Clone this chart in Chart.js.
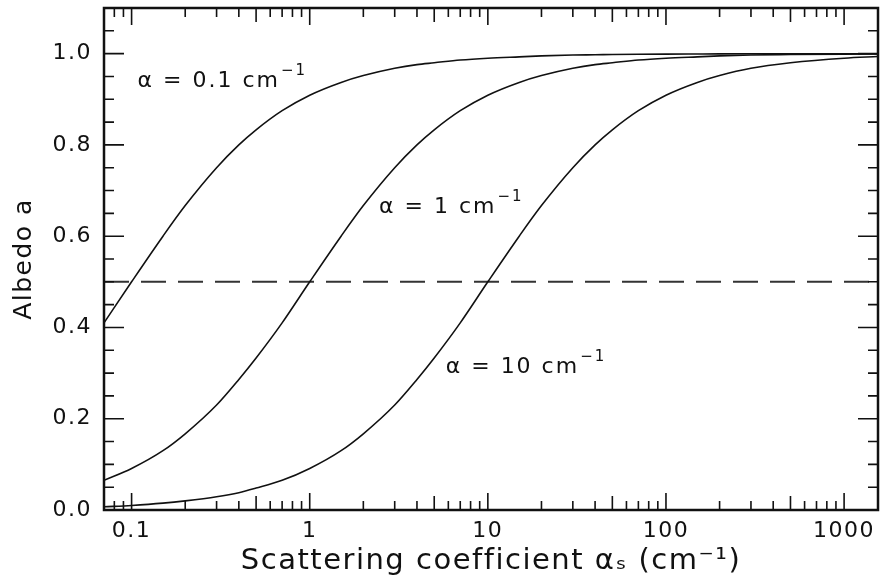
<!DOCTYPE html>
<html>
<head>
<meta charset="utf-8">
<script src="https://cdn.jsdelivr.net/npm/chart.js@4.4.0/dist/chart.umd.min.js"></script>
<style>
  html, body { margin: 0; padding: 0; background: #fff; }
  #wrap { width: 881px; height: 586px; }
</style>
</head>
<body>
<div id="wrap"><canvas id="chart" width="881" height="586"></canvas></div>
<script>
// ------------------------------------------------------------
//  Data
// ------------------------------------------------------------
const scatterCoef = [0.07, 0.1, 0.15, 0.2, 0.3, 0.4, 0.5, 0.7, 1, 1.5, 2, 3, 4, 5, 7, 10, 15, 20, 30, 40, 50, 70, 100, 150, 200, 300, 500, 1000, 1550];
const albedoA01 = [0.41, 0.50, 0.60, 0.667, 0.75, 0.80, 0.833, 0.875, 0.909, 0.937, 0.952, 0.968, 0.976, 0.980, 0.986, 0.990, 0.993, 0.995, 0.997, 0.9975, 0.998, 0.9986, 0.999, 0.9993, 0.9995, 0.9997, 0.9998, 0.9999, 0.9999];
const albedoA1  = [0.065, 0.091, 0.13, 0.167, 0.23, 0.286, 0.333, 0.41, 0.50, 0.60, 0.667, 0.75, 0.80, 0.833, 0.875, 0.909, 0.937, 0.952, 0.968, 0.976, 0.980, 0.986, 0.990, 0.993, 0.995, 0.997, 0.998, 0.999, 0.9994];
const albedoA10 = [0.007, 0.01, 0.015, 0.02, 0.029, 0.038, 0.048, 0.065, 0.091, 0.13, 0.167, 0.23, 0.286, 0.333, 0.41, 0.50, 0.60, 0.667, 0.75, 0.80, 0.833, 0.875, 0.909, 0.937, 0.952, 0.968, 0.980, 0.990, 0.9936];

const halfX = [0.07, 1550];
const halfY = [0.5, 0.5];

const xTickLabels = [0.1, 1, 10, 100, 1000];
const yTickLabels = [0, 0.2, 0.4, 0.6, 0.8, 1.0];

const curveNames = ["α = 0.1 cm", "α = 1 cm", "α = 10 cm"];
const curveNameX = [0.108, 2.45, 5.8];
const curveNameY = [0.94, 0.663, 0.313];

const FONT = "'DejaVu Sans', sans-serif";
const INK = "#111";

const toPoints = (xs, ys) => xs.map((x, i) => ({ x, y: ys[i] }));

// ------------------------------------------------------------
//  Inward ticks on all four sides + frame + curve labels
// ------------------------------------------------------------
const framePlugin = {
    id: "frame",
    beforeDraw(chart) {
        chart.ctx.letterSpacing = "1.5px";
    },
    afterDatasetsDraw(chart) {
        const ctx = chart.ctx;
        const { x, y } = chart.scales;
        ctx.save();
        ctx.fillStyle = INK;
        ctx.textBaseline = "middle";
        ctx.letterSpacing = "2px";
        curveNames.forEach((t, i) => {
            const px = x.getPixelForValue(curveNameX[i]);
            const py = y.getPixelForValue(curveNameY[i]);
            ctx.font = "22px " + FONT;
            ctx.fillText(t, px, py);
            const w = ctx.measureText(t).width;
            ctx.font = "15px " + FONT;
            ctx.fillText("−1", px + w + 1, py - 10);
        });
        ctx.restore();
    },
    afterDraw(chart) {
        const ctx = chart.ctx;
        const { left, right, top, bottom } = chart.chartArea;
        const { x, y } = chart.scales;
        ctx.save();
        ctx.strokeStyle = INK;
        ctx.lineWidth = 1.6;
        ctx.beginPath();
        // x ticks
        for (let k = -2; k <= 3; k++) {
            for (let m = 1; m <= 9; m++) {
                const v = m * Math.pow(10, k);
                if (v < x.min || v > x.max) continue;
                const px = x.getPixelForValue(v);
                const len = m === 1 ? 17 : (m === 5 ? 14 : 9);
                ctx.moveTo(px, bottom); ctx.lineTo(px, bottom - len);
                ctx.moveTo(px, top); ctx.lineTo(px, top + len);
            }
        }
        // y ticks
        for (let i = 0; i <= 22; i++) {
            const v = i * 0.05;
            if (v > y.max + 1e-9) continue;
            const py = y.getPixelForValue(v);
            const len = i % 4 === 0 ? 20 : 10;
            ctx.moveTo(left, py); ctx.lineTo(left + len, py);
            ctx.moveTo(right, py); ctx.lineTo(right - len, py);
        }
        ctx.stroke();
        ctx.lineWidth = 2.5;
        ctx.strokeRect(left, top, right - left, bottom - top);
        ctx.restore();
    },
};

const curveStyle = {
    showLine: true,
    borderColor: INK,
    borderWidth: 1.6,
    pointRadius: 0,
    cubicInterpolationMode: "monotone",
    fill: false,
};

new Chart(document.getElementById("chart"), {
    type: "scatter",
    data: {
        datasets: [
            { label: "α = 0.1", data: toPoints(scatterCoef, albedoA01), ...curveStyle },
            { label: "α = 1", data: toPoints(scatterCoef, albedoA1), ...curveStyle },
            { label: "α = 10", data: toPoints(scatterCoef, albedoA10), ...curveStyle },
            {
                label: "half",
                data: toPoints(halfX, halfY),
                showLine: true,
                borderColor: "#333",
                borderWidth: 1.9,
                borderDash: [25, 12],
                pointRadius: 0,
            },
        ],
    },
    options: {
        responsive: false,
        animation: false,
        devicePixelRatio: 1,
        layout: { padding: { top: 8, right: 3, left: 0, bottom: 0 } },
        plugins: {
            legend: { display: false },
            tooltip: { enabled: false },
        },
        scales: {
            x: {
                type: "logarithmic",
                min: 0.07,
                max: 1550,
                afterBuildTicks: s => { s.ticks = xTickLabels.map(v => ({ value: v })); },
                afterFit: s => { s.height = 76; s.paddingLeft = 0; s.paddingRight = 0; },
                grid: { display: false, drawTicks: false },
                border: { display: false },
                ticks: {
                    color: INK,
                    font: { family: FONT, size: 22 },
                    padding: 8,
                    maxRotation: 0,
                    autoSkip: false,
                    callback: v => String(v),
                },
                title: {
                    display: true,
                    text: "Scattering coefficient αₛ (cm⁻¹)",
                    color: INK,
                    font: { family: FONT, size: 29 },
                    padding: { top: 0, bottom: 7 },
                },
            },
            y: {
                min: 0,
                max: 1.1,
                afterBuildTicks: s => { s.ticks = yTickLabels.map(v => ({ value: v })); },
                afterFit: s => { s.width = 104; s.paddingTop = 0; s.paddingBottom = 0; },
                grid: { display: false, drawTicks: false },
                border: { display: false },
                ticks: {
                    color: INK,
                    font: { family: FONT, size: 22 },
                    padding: 12,
                    callback: v => v.toFixed(1),
                },
                title: {
                    display: true,
                    text: "Albedo a",
                    color: INK,
                    font: { family: FONT, size: 25 },
                    padding: { top: 9, bottom: 9 },
                },
            },
        },
    },
    plugins: [framePlugin],
});
</script>
</body>
</html>
